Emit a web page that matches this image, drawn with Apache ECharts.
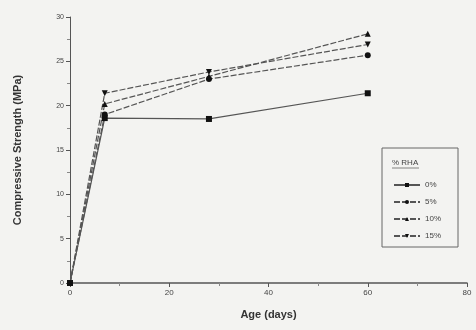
<!DOCTYPE html>
<html>
<head>
<meta charset="utf-8">
<script src="https://cdn.jsdelivr.net/npm/echarts@6/dist/echarts.min.js"></script>
<style>
  html, body { margin: 0; padding: 0; background: #f3f3f1; }
  #chart { width: 476px; height: 330px; }
</style>
</head>
<body>
<div id="chart"></div>
<script>
  // ages in days
  const ages = [0, 7, 28, 60];
  const rha0 = [0, 18.6, 18.5, 21.4];
  const rha5 = [0, 19.0, 23.0, 25.7];
  const rha10 = [0, 20.2, 23.3, 28.1];
  const rha15 = [0, 21.4, 23.8, 26.9];
  const seriesNames = ["0%", "5%", "10%", "15%"];
  const symbols = ["rect", "circle", "triangle", "path://M0,0 L10,0 L5,9 Z"];

  const chart = echarts.init(document.getElementById("chart"), null, { renderer: "canvas" });

  const toPairs = (vals) => ages.map((a, i) => [a, vals[i]]);
  const allData = [rha0, rha5, rha10, rha15];

  const textColor = "#444";
  const axisColor = "#555";

  const option = {
    backgroundColor: "#f3f3f1",
    animation: false,
    grid: { left: 70, right: 9, top: 17, bottom: 47 },
    xAxis: {
      type: "value",
      min: 0,
      max: 80,
      interval: 20,
      name: "Age (days)",
      nameLocation: "middle",
      nameGap: 26,
      nameTextStyle: { color: "#333", fontSize: 11, fontWeight: "bold", fontFamily: "Liberation Sans" },
      axisLine: { lineStyle: { color: axisColor, width: 1.5 } },
      axisTick: { length: 4, lineStyle: { color: axisColor } },
      minorTick: { show: true, splitNumber: 2, length: 3, lineStyle: { color: "#888" } },
      axisLabel: { color: textColor, fontSize: 8, margin: 6, fontFamily: "Liberation Sans" },
      splitLine: { show: false },
    },
    yAxis: {
      type: "value",
      min: 0,
      max: 30,
      interval: 5,
      name: "Compressive Strength (MPa)",
      nameLocation: "middle",
      nameGap: 47,
      nameTextStyle: { color: "#333", fontSize: 11, fontWeight: "bold", fontFamily: "Liberation Sans" },
      axisLine: { show: true, lineStyle: { color: axisColor, width: 1 } },
      axisTick: { show: true, length: 4, lineStyle: { color: axisColor } },
      minorTick: { show: true, splitNumber: 2, length: 3, lineStyle: { color: "#888" } },
      axisLabel: { color: textColor, fontSize: 7, margin: 6, fontFamily: "Liberation Sans" },
      splitLine: { show: false },
    },
    legend: {
      data: seriesNames,
      orient: "vertical",
      left: 388,
      top: 176,
      itemWidth: 26,
      itemHeight: 5,
      itemGap: 9,
      textStyle: { color: textColor, fontSize: 8, fontFamily: "Liberation Sans" },
    },
    graphic: [
      {
        type: "rect",
        shape: { x: 382, y: 148, width: 76, height: 99 },
        style: { fill: "none", stroke: "#666", lineWidth: 1 },
        z: 100,
      },
      {
        type: "text",
        left: 392,
        top: 159,
        style: { text: "% RHA", fill: textColor, fontSize: 8, fontFamily: "Liberation Sans" },
        z: 100,
      },
      {
        type: "line",
        shape: { x1: 392, y1: 168, x2: 419, y2: 168 },
        style: { stroke: "#666", lineWidth: 0.8 },
        z: 100,
      },
    ],
    series: allData.map((vals, i) => ({
      name: seriesNames[i],
      type: "line",
      data: toPairs(vals),
      symbol: symbols[i],
      symbolSize: 6,
      itemStyle: { color: "#111" },
      lineStyle: { color: "#555", width: 1.2, type: i === 0 ? "solid" : [6, 2] },
    })),
  };

  chart.setOption(option);
</script>
</body>
</html>
